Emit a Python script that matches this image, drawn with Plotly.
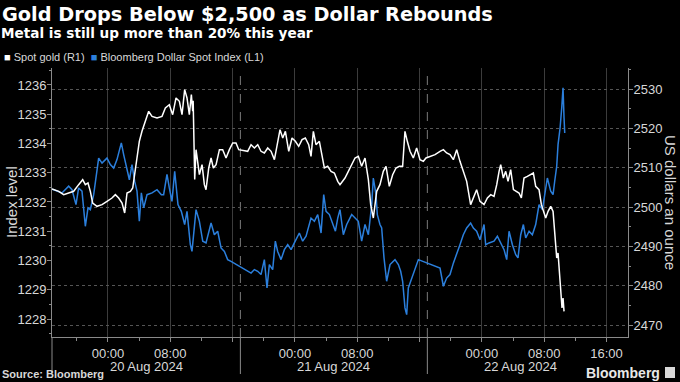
import pandas as pd
import plotly.graph_objects as go

# ---------------- data (hours after 2024-08-19 16:49) ----------------
ORIGIN = "2024-08-19 16:49"

usd_hours = [0, 1.28, 2.14, 2.57, 3.08, 3.42, 3.85, 4.28, 4.62, 4.92,
             5.35, 5.78, 5.99, 6.42, 7.06, 7.49, 7.92, 8.34, 8.90, 9.20,
             9.63, 9.93, 10.27, 10.61, 10.91, 11.21, 11.47, 11.77, 12.20, 12.84,
             13.48, 14.04, 14.33, 14.76, 15.06, 15.40, 15.75, 16.17, 16.60, 17.03,
             17.33, 17.76, 17.97, 18.19, 18.49,
             18.92, 19.35, 19.77, 20.42, 20.84, 21.27, 21.70, 22.13, 22.55, 22.98,
             25.55, 25.98, 26.41, 26.83, 27.26, 27.60, 27.90, 28.33, 28.67, 28.97,
             29.40, 29.83, 30.26, 30.69, 31.11, 31.75, 32.18, 32.61, 33.25, 33.68,
             34.11, 34.54, 34.88, 35.18, 35.61, 36.03, 36.38, 36.68,
             36.97, 37.40, 37.83, 38.47, 38.90, 39.32, 39.75, 40.18, 40.61, 41.04,
             41.25, 41.59, 41.76, 42.10, 42.32, 42.62, 42.96, 43.39, 44.03, 44.46,
             44.76, 45.01, 45.31, 45.53, 45.74, 46.17, 46.60, 47.03, 49.81, 50.24,
             50.66, 51.09, 51.52, 51.95, 52.37, 52.80, 53.23, 53.74, 54.09, 54.51,
             54.94,
             55.46, 55.67, 56.10, 56.74, 57.17, 57.60, 58.03, 58.37, 58.67, 59.10,
             59.53, 59.82, 60.17, 60.51, 60.81, 61.24, 61.66, 62.09, 62.52, 62.95,
             63.38, 63.59, 64.02, 64.32, 64.53, 64.79, 64.96, 65.22, 65.43, 65.60,
             65.73, 65.82]
usd_values = [1232.44, 1232.31, 1232.54, 1232.42, 1231.91, 1232.48, 1232.37, 1231.17, 1231.80, 1231.74,
              1232.25, 1233.05, 1233.50, 1233.33, 1233.50, 1233.28, 1233.16, 1233.45, 1234.02, 1233.62,
              1233.05, 1232.76, 1233.28, 1232.71, 1232.37, 1231.34, 1232.31, 1231.80, 1232.25, 1232.31,
              1232.42, 1232.25, 1232.25, 1232.94, 1232.48, 1232.02, 1233.05, 1231.91, 1231.68, 1231.23,
              1231.68, 1230.54, 1230.31, 1230.88, 1231.74,
              1231.34, 1230.66, 1230.60, 1231.28, 1230.88, 1231.00, 1230.43, 1230.31, 1230.03, 1229.97,
              1229.57, 1229.69, 1229.63, 1229.52, 1230.03, 1229.06, 1229.86, 1229.69, 1230.66, 1230.31,
              1230.03, 1230.37, 1230.54, 1230.37, 1230.60, 1230.94, 1230.66, 1230.83, 1231.45, 1231.34,
              1231.57, 1230.94, 1232.25, 1231.68, 1231.57, 1231.23, 1231.00, 1231.45,
              1231.74, 1230.88, 1231.23, 1231.57, 1231.45, 1231.34, 1230.66, 1231.23, 1230.88, 1231.91,
              1232.82, 1232.25, 1231.57, 1231.23, 1231.11, 1230.09, 1229.29, 1229.86, 1230.03, 1229.86,
              1229.63, 1229.29, 1228.38, 1228.15, 1229.06, 1229.40, 1229.74, 1230.03, 1229.74, 1229.12,
              1229.40, 1229.52, 1229.91, 1230.20, 1230.54, 1230.88, 1231.11, 1231.28, 1231.11, 1231.00,
              1230.71,
              1231.23, 1230.54, 1230.60, 1230.66, 1230.83, 1230.60, 1230.37, 1230.03, 1231.00, 1230.54,
              1230.20, 1230.09, 1230.88, 1231.23, 1230.77, 1231.00, 1230.88, 1231.23, 1231.91, 1231.74,
              1232.59, 1232.82, 1232.37, 1232.25, 1232.71, 1233.22, 1233.96, 1234.53, 1235.21, 1235.90,
              1234.87, 1234.36]

gold_hours = [0, 0.86, 1.50, 2.14, 2.78, 3.42, 3.94, 4.28, 4.62, 4.92,
              5.22, 5.78, 6.42, 7.06, 7.70, 8.13, 8.56, 8.99, 9.33, 9.63,
              10.06, 10.36, 10.61, 10.91, 11.21, 11.55, 11.98, 12.41, 12.84, 13.48,
              14.12, 14.55, 15.06, 15.49, 15.92, 16.35, 16.69, 17.03, 17.33, 17.63,
              17.89, 18.06, 18.12, 18.20, 18.32,
              18.49, 18.92, 19.26, 19.56, 19.77, 20.12, 20.42, 20.71, 21.06, 21.49,
              21.91, 22.34, 22.77, 23.20, 23.62, 23.97, 25.12, 25.55, 25.98, 26.41,
              26.83, 27.26, 27.69, 28.12, 28.55, 28.97, 29.27, 29.62, 29.96, 30.39,
              30.81, 31.24, 31.67, 32.10, 32.52, 32.95, 33.25, 33.55, 33.89, 34.32,
              34.66, 34.96, 35.39, 35.82, 36.25, 36.68,
              36.97, 37.61, 38.04, 38.47, 38.90, 39.32, 39.75, 40.18, 40.61, 40.91,
              41.25, 41.68, 42.10, 42.53, 42.88, 43.30, 43.73, 44.16, 44.59, 45.01,
              45.31, 45.61, 45.96, 46.38, 46.81, 47.24, 47.67, 48.01, 49.17, 49.81,
              50.24, 50.66, 51.09, 51.52, 51.95, 52.37, 52.80, 53.23, 53.74, 54.09,
              54.51, 54.94,
              55.46, 55.89, 56.32, 56.74, 57.09, 57.39, 57.60, 57.94, 58.24, 58.54,
              58.88, 59.23, 59.53, 59.95, 60.25, 60.59, 61.02, 61.45, 61.79, 62.09,
              62.52, 62.82, 63.08, 63.38, 63.68, 64.02, 64.32, 64.53, 64.79, 64.96,
              65.13, 65.30, 65.47, 65.60, 65.73]
gold_values = [2504.58, 2503.99, 2503.14, 2503.56, 2503.99, 2505.68, 2506.95, 2505.68, 2506.11, 2503.99,
               2501.02, 2500.17, 2500.60, 2501.44, 2502.29, 2503.14, 2502.29, 2501.02, 2498.48, 2503.56,
               2503.99, 2504.83, 2508.22, 2512.46, 2516.70, 2519.24, 2521.78, 2524.33, 2523.05, 2522.63,
               2523.05, 2525.17, 2526.02, 2523.48, 2527.72, 2526.87, 2523.48, 2529.83, 2527.72, 2523.48,
               2528.56, 2524.33, 2527.00, 2513.00, 2507.00,
               2514.58, 2508.22, 2510.77, 2505.68, 2504.41, 2509.92, 2512.46, 2509.92, 2510.77, 2514.58,
               2514.58, 2512.46, 2514.58, 2516.27, 2516.27, 2514.58, 2514.16, 2515.85, 2515.00, 2515.85,
               2514.16, 2513.73, 2515.00, 2514.16, 2512.04, 2517.12, 2519.66, 2517.55, 2519.24, 2514.16,
               2517.55, 2516.70, 2515.43, 2517.12, 2517.55, 2515.85, 2512.88, 2519.24, 2515.85, 2516.70,
               2512.88, 2509.92, 2510.34, 2509.07, 2508.65, 2506.53,
               2505.68, 2507.38, 2509.07, 2510.77, 2512.46, 2512.88, 2510.34, 2512.46, 2506.95, 2500.60,
               2497.21, 2503.99, 2505.68, 2509.07, 2510.34, 2505.26, 2508.22, 2509.92, 2510.34, 2510.34,
               2519.24, 2516.70, 2514.16, 2512.46, 2515.00, 2512.04, 2511.61, 2512.46, 2513.31, 2514.16,
               2514.58, 2513.73, 2513.31, 2512.04, 2514.58, 2511.61, 2509.07, 2506.53, 2500.60, 2502.29,
               2504.41, 2501.44,
               2500.60, 2502.29, 2503.14, 2502.72, 2505.68, 2509.07, 2510.77, 2507.38, 2509.07, 2506.53,
               2509.49, 2504.41, 2503.99, 2503.56, 2502.29, 2507.38, 2507.80, 2508.22, 2508.65, 2505.26,
               2504.41, 2500.60, 2498.90, 2497.21, 2498.90, 2500.17, 2498.90, 2492.97, 2487.04, 2488.31,
               2483.65, 2478.56, 2474.33, 2476.87, 2473.48]

x_tick_times = ["2024-08-20 00:00", "2024-08-20 08:00", "2024-08-20 16:00",
                "2024-08-21 00:00", "2024-08-21 08:00", "2024-08-21 16:00",
                "2024-08-22 00:00", "2024-08-22 08:00", "2024-08-22 16:00"]
x_tick_text = ["00:00", "08:00", "", "00:00", "08:00", "", "00:00", "08:00", "16:00"]
day_labels = ["20 Aug 2024", "21 Aug 2024", "22 Aug 2024"]
day_label_times = ["2024-08-20 05:00", "2024-08-21 05:00", "2024-08-22 05:00"]
session_breaks = ["2024-08-20 17:00", "2024-08-21 17:00"]
usd_ticks = [1228, 1229, 1230, 1231, 1232, 1233, 1234, 1235, 1236]
gold_ticks = [2470, 2480, 2490, 2500, 2510, 2520, 2530]

assert len(usd_hours) == len(usd_values)
assert len(gold_hours) == len(gold_values)

origin = pd.Timestamp(ORIGIN)
def to_time(hours):
    return [origin + pd.Timedelta(hours=h) for h in hours]

x_start = origin
x_end = origin + pd.Timedelta(hours=73.94)

# ---------------- styling ----------------
BG = "#000000"
AXIS = "#8a8a8a"
GRID = "#3c3c3c"
TXT = "#d8d8d8"
BLUE = "#2b7fdc"
FONT = "Liberation Sans, Arial, sans-serif"

PL, PR, PT, PB = 52, 52, 68, 45
W, H = 680, 382
PW, PH = W - PL - PR, H - PT - PB

def px(x):
    return (x - PL) / PW

def py(y):
    return (H - PB - y) / PH

fig = go.Figure()
fig.add_trace(go.Scatter(x=to_time(gold_hours), y=gold_values, yaxis="y2", mode="lines",
                         line=dict(color="#ffffff", width=1.5), name="Spot gold (R1)",
                         showlegend=False))
fig.add_trace(go.Scatter(x=to_time(usd_hours), y=usd_values, yaxis="y", mode="lines",
                         line=dict(color=BLUE, width=1.5), name="Bloomberg Dollar Spot Index (L1)",
                         showlegend=False))

fig.update_layout(
    width=W, height=H,
    margin=dict(l=PL, r=PR, t=PT, b=PB),
    paper_bgcolor=BG, plot_bgcolor=BG,
    font=dict(family=FONT, color=TXT, size=13),
    title=dict(text="<b>Gold Drops Below $2,500 as Dollar Rebounds</b>",
               font=dict(family="DejaVu Sans", size=19.3, color="#ffffff"),
               x=2 / W, xref="container", xanchor="left",
               y=1 - 14 / H, yref="container", yanchor="middle"),
    xaxis=dict(type="date", range=[x_start, x_end],
               tickmode="array", tickvals=x_tick_times, ticktext=x_tick_text,
               showgrid=True, gridcolor=GRID, gridwidth=1,
               showline=True, linecolor=AXIS, linewidth=1,
               ticks="outside", ticklen=4, tickcolor=AXIS,
               tickfont=dict(size=13, color=TXT),
               minor=dict(ticks="outside", ticklen=3, tickcolor=AXIS, tickmode="linear",
                          tick0="2024-08-20 00:00", dtick=4 * 3600 * 1000, showgrid=False),
               zeroline=False),
    yaxis=dict(range=[1227.385, 1236.58], tickmode="array", tickvals=usd_ticks,
               showgrid=False, showline=True, linecolor=AXIS, linewidth=1,
               ticks="outside", ticklen=4, tickcolor=AXIS, ticklabelstandoff=-2,
               tickfont=dict(size=13, color=TXT), zeroline=False,
               minor=dict(ticks="outside", ticklen=2, tickcolor=AXIS, tickmode="linear",
                          tick0=1228, dtick=0.5, showgrid=False)),
    yaxis2=dict(range=[2466.95, 2535.34], overlaying="y", side="right",
                tickmode="array", tickvals=gold_ticks,
                showgrid=True, gridcolor="#555555", griddash="dot", gridwidth=1,
                showline=True, linecolor=AXIS, linewidth=1,
                ticks="outside", ticklen=4, tickcolor=AXIS, ticklabelstandoff=-2,
                tickfont=dict(size=13, color=TXT), zeroline=False,
                minor=dict(ticks="outside", ticklen=2, tickcolor=AXIS, tickmode="linear",
                           tick0=2470, dtick=5, showgrid=False)),
)

shapes = []
for t in session_breaks:
    shapes.append(dict(type="line", xref="x", yref="paper", x0=t, x1=t, y0=0, y1=1,
                       line=dict(color="#7a7a7a", width=1, dash="dash"), layer="below"))
    shapes.append(dict(type="line", xref="x", yref="paper", x0=t, x1=t, y0=0, y1=py(374),
                       line=dict(color=AXIS, width=1)))
shapes.append(dict(type="line", xref="paper", yref="paper", x0=0, x1=0, y0=0, y1=py(374),
                   line=dict(color=AXIS, width=1)))
# small Bloomberg glyph box
shapes.append(dict(type="rect", xref="paper", yref="paper", x0=px(665), x1=px(675),
                   y0=py(378), y1=py(367), fillcolor="#d8d8d8", line=dict(width=0)))
fig.update_layout(shapes=shapes)

ann = []
ann.append(dict(text="<b>Metal is still up more than 20% this year</b>", xref="paper", yref="paper",
                x=px(-1), y=py(33), xanchor="left", yanchor="middle", showarrow=False,
                font=dict(family="DejaVu Sans", size=13.6, color="#ffffff")))
ann.append(dict(text="<span style='color:#ffffff'>■</span> Spot gold (R1)  "
                     f"<span style='color:{BLUE}'>■</span> Bloomberg Dollar Spot Index (L1)",
                xref="paper", yref="paper", x=px(2), y=py(57), xanchor="left", yanchor="middle",
                showarrow=False, font=dict(size=11, color=TXT)))
ann.append(dict(text="Index level", xref="paper", yref="paper", x=px(11), y=py(202),
                xanchor="center", yanchor="middle", textangle=-90, showarrow=False,
                font=dict(size=15, color=TXT)))
ann.append(dict(text="US dollars an ounce", xref="paper", yref="paper", x=px(671), y=py(202),
                xanchor="center", yanchor="middle", textangle=90, showarrow=False,
                font=dict(size=15, color=TXT)))
for lbl, t in zip(day_labels, day_label_times):
    ann.append(dict(text=lbl, xref="x", yref="paper", x=t, y=py(366), xanchor="center",
                    yanchor="middle", showarrow=False, font=dict(size=13, color=TXT)))
ann.append(dict(text="<b>Source: Bloomberg</b>", xref="paper", yref="paper", x=px(0), y=py(374),
                xanchor="left", yanchor="middle", showarrow=False,
                font=dict(size=11, color=TXT)))
ann.append(dict(text="<b>Bloomberg</b>", xref="paper", yref="paper", x=px(662), y=py(373),
                xanchor="right", yanchor="middle", showarrow=False,
                font=dict(size=14, color="#e8e8e8")))
fig.update_layout(annotations=ann)

fig.write_html("out.html", config={"displayModeBar": False},
               post_script="document.body.style.margin='0';document.body.style.padding='0';")
